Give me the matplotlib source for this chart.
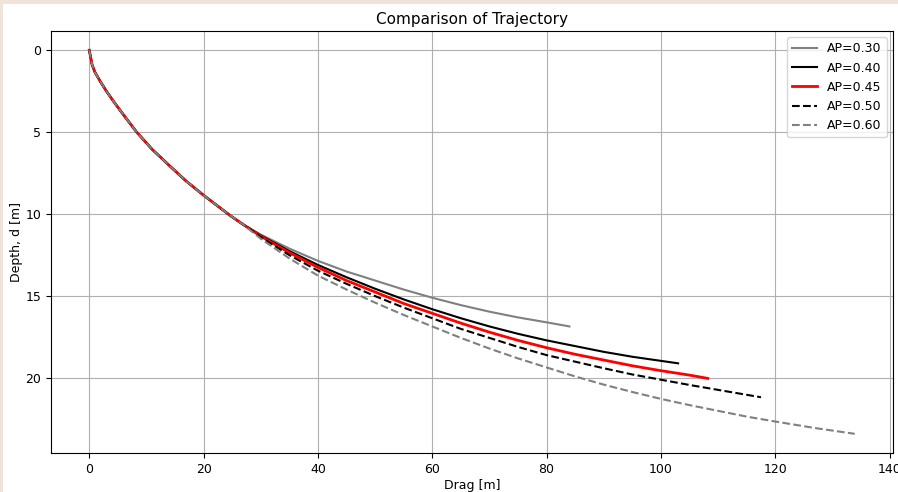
import matplotlib
matplotlib.use("Agg")
import matplotlib.pyplot as plt
from matplotlib.patches import Rectangle

# Shared early part of the trajectory (drag x, depth d)
common_x = [0.0, 0.5, 1.0, 2.0, 3.0, 4.3, 6.0, 8.3, 11.0, 14.2, 17.0, 20.0, 24.7, 27.0]
common_d = [0.0, 0.9, 1.35, 1.95, 2.5, 3.15, 3.95, 5.0, 6.05, 7.1, 8.0, 8.85, 10.1, 10.65]

ap30_x = common_x + [30, 35, 40, 45, 50, 55, 60, 65, 70, 75, 80, 84.0]
ap30_d = common_d + [11.25, 12.1, 12.85, 13.5, 14.05, 14.6, 15.1, 15.55, 15.95, 16.3, 16.6, 16.85]

ap40_x = common_x + [30, 35, 40, 45, 50, 55, 60, 65, 70, 75, 80, 85, 90, 95, 100, 103.0]
ap40_d = common_d + [11.3, 12.25, 13.1, 13.85, 14.55, 15.2, 15.8, 16.35, 16.85, 17.3, 17.7,
                     18.05, 18.4, 18.7, 18.95, 19.1]

ap45_x = common_x + [30, 35, 40, 45, 50, 55, 60, 65, 70, 75, 80, 85, 90, 95, 100, 105, 108.2]
ap45_d = common_d + [11.35, 12.35, 13.25, 14.05, 14.75, 15.45, 16.05, 16.65, 17.2, 17.7, 18.15,
                     18.55, 18.9, 19.25, 19.55, 19.82, 20.02]

ap50_x = common_x + [30, 35, 40, 45, 50, 55, 60, 65, 70, 75, 80, 85, 90, 95, 100, 105, 110, 117.5]
ap50_d = common_d + [11.4, 12.5, 13.45, 14.25, 15.0, 15.7, 16.35, 17.0, 17.55, 18.1, 18.6,
                     19.0, 19.4, 19.78, 20.1, 20.42, 20.72, 21.17]

ap60_x = common_x + [30, 35, 40, 45, 50, 55, 60, 65, 70, 75, 80, 85, 90, 95, 100, 105, 110,
                     115, 120, 127, 133.9]
ap60_d = common_d + [11.5, 12.7, 13.75, 14.6, 15.4, 16.15, 16.85, 17.55, 18.2, 18.8, 19.35,
                     19.9, 20.4, 20.85, 21.27, 21.65, 22.0, 22.35, 22.65, 23.05, 23.4]

series = [
    ("AP=0.30", ap30_x, ap30_d, dict(color="gray", linestyle="-", linewidth=1.5)),
    ("AP=0.40", ap40_x, ap40_d, dict(color="black", linestyle="-", linewidth=1.5)),
    ("AP=0.45", ap45_x, ap45_d, dict(color="red", linestyle="-", linewidth=2.0)),
    ("AP=0.50", ap50_x, ap50_d, dict(color="black", linestyle="--", linewidth=1.5)),
    ("AP=0.60", ap60_x, ap60_d, dict(color="gray", linestyle="--", linewidth=1.5)),
]

fig = plt.figure(figsize=(8.98, 4.92), dpi=100, facecolor="#efe4d9")
fig.patches.append(Rectangle((3 / 898, 0), 1, 1 - 4 / 492, transform=fig.transFigure,
                             facecolor="white", edgecolor="none", zorder=-1))
ax = fig.add_axes([51 / 898, 39 / 492, 842 / 898, 422 / 492])

for label, xs, ds, style in series:
    ax.plot(xs, ds, label=label, **style)

ax.invert_yaxis()
ax.grid(True, color="#b0b0b0", linewidth=0.8)
ax.set_title("Comparison of Trajectory", fontsize=11, pad=5)
ax.set_xlabel("Drag [m]", fontsize=9, labelpad=2)
ax.set_ylabel("Depth, d [m]", fontsize=9, labelpad=2)
ax.tick_params(labelsize=9)
ax.legend(loc="upper right", fontsize=9)

fig.savefig("out.png", dpi=100, facecolor=fig.get_facecolor())
